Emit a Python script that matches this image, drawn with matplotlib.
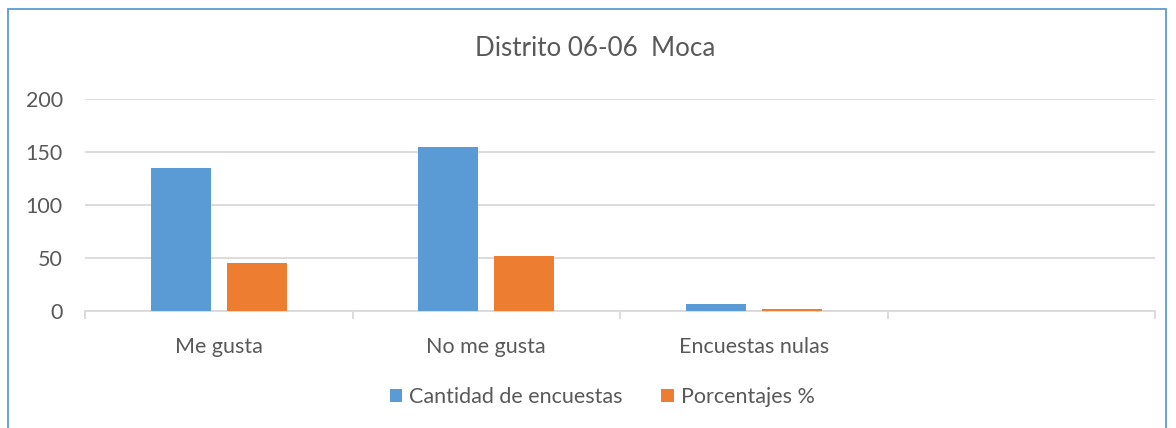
import numpy as np
import matplotlib
matplotlib.use('Agg')
import matplotlib.pyplot as plt
from matplotlib.patches import Rectangle

categories = ['Me gusta', 'No me gusta', 'Encuestas nulas', '']
cantidad = [135, 155, 7, 0]
porcentajes = [45, 52, 2, 0]
series_names = ['Cantidad de encuestas', 'Porcentajes %']
y_ticks = [0, 50, 100, 150, 200]

blue = '#5B9BD5'
orange = '#ED7D31'
txt = '#595959'
grid = '#D9D9D9'

plt.rcParams['font.family'] = ['Lato', 'DejaVu Sans']

fig = plt.figure(figsize=(11.76, 4.28), dpi=100)
ax = fig.add_axes([85 / 1176, 1 - 311 / 428, 1070 / 1176, 212 / 428])

x = np.arange(len(categories))
w = 0.224
gap = 0.06
ax.bar(x - (w + gap) / 2, cantidad, w, color=blue, label=series_names[0], zorder=3)
ax.bar(x + (w + gap) / 2, porcentajes, w, color=orange, label=series_names[1], zorder=3)

ax.set_xlim(-0.5, len(categories) - 0.5)
ax.set_ylim(0, 200)
ax.set_yticks(y_ticks)
ax.yaxis.grid(True, color=grid, linewidth=1.3, zorder=0)
ax.tick_params(axis='y', length=0, labelsize=15.5, labelcolor=txt, pad=16)

ax.set_xticks(x)
ax.set_xticklabels(categories)
ax.set_xticks(np.arange(len(categories) + 1) - 0.5, minor=True)
ax.tick_params(axis='x', which='major', length=0, labelsize=15.5, labelcolor=txt, pad=19)
ax.tick_params(axis='x', which='minor', length=6, color=grid, width=1.3)

for s in ['top', 'right', 'left']:
    ax.spines[s].set_visible(False)
ax.spines['bottom'].set_color(grid)
ax.spines['bottom'].set_linewidth(1.3)

fig.text(595 / 1176, 1 - 48 / 428, 'Distrito 06-06  Moca', ha='center', va='center',
         fontsize=18.7, color=txt)

leg = fig.legend(loc='center', bbox_to_anchor=(602 / 1176, 1 - 397 / 428), ncol=2,
                 frameon=False, fontsize=15.5, handlelength=0.6, handleheight=0.6,
                 handletextpad=0.3, columnspacing=1.8, labelcolor=txt)

fig.patches.append(Rectangle((8 / 1176, -0.1), 1158 / 1176, 1.1 - 9 / 428,
                             transform=fig.transFigure, fill=False,
                             edgecolor='#5B9BD5', linewidth=1.3))

fig.savefig('out.png', dpi=100)
